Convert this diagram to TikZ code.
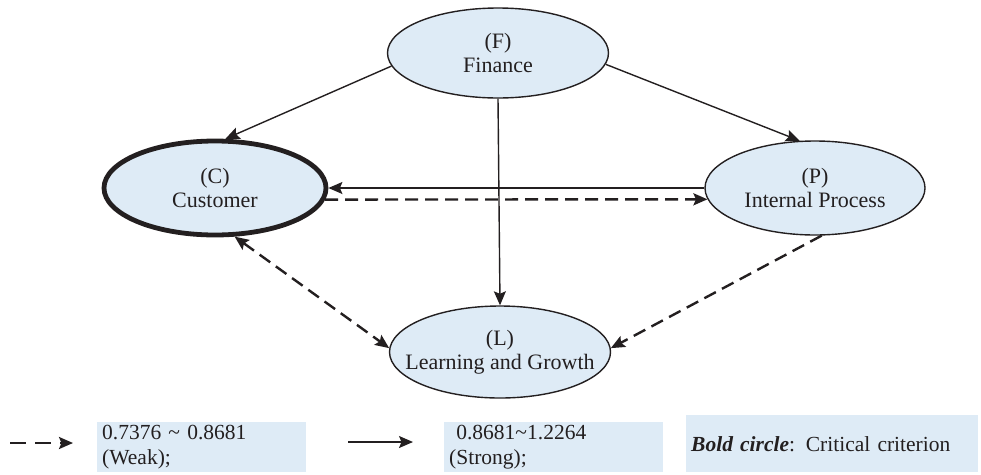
\documentclass[tikz,border=0pt]{standalone}
\usepackage{fontspec}
\setmainfont{Liberation Serif}
\usetikzlibrary{shapes.geometric,arrows.meta}
\definecolor{nodefill}{RGB}{222,235,246}
\definecolor{inkline}{RGB}{35,31,32}
\tikzset{
  tip/.tip={Stealth[length=14pt,width=12pt,inset=2.5pt]},
  crit/.style={ellipse, draw=inkline, fill=nodefill, line width=1.4pt, inner xsep=-40pt, inner ysep=-15pt, align=center,
    font=\fontsize{22}{24}\selectfont, text=inkline},
  solidarr/.style={draw=inkline, line width=1.4pt, -tip},
  dasharr/.style={draw=inkline, line width=2.4pt, dash pattern=on 13pt off 7pt, -tip},
  dasharrboth/.style={dasharr, tip-tip},
  legbox/.style={fill=nodefill, draw=none, inner xsep=5pt, inner ysep=0pt, align=left,
    font=\fontsize{21.5}{25}\selectfont, text=inkline, anchor=north west},
}
\begin{document}
\begin{tikzpicture}[x=1pt,y=-1pt]
\useasboundingbox (0,0) rectangle (981,474);
% nodes
\node[crit, minimum width=221pt, minimum height=90pt] (F) at (498,53) {(F)\\Finance};
\node[crit, minimum width=222pt, minimum height=94pt, line width=4.8pt] (C) at (215,188) {(C)\\Customer};
\node[crit, minimum width=220pt, minimum height=94pt] (P) at (815,188) {(P)\\Internal Process};
\node[crit, minimum width=221pt, minimum height=92pt] (L) at (500,352) {(L)\\Learning and Growth};
% connectors
\draw[solidarr] (F.187) -- (C.78);
\draw[solidarr] (F.354) -- (P.108);
\draw[solidarr] (F.south) -- (L.north);
\draw[solidarr] (P.west) -- (C.east);
\draw[dasharr] (C.-6) -- (P.186);
\draw[dasharrboth] (C.292) -- (L.178);
\draw[dasharr] (P.278) -- (L.2);
% legend
\coordinate (d1) at (10,443);
\coordinate (d2) at (73,443);
\draw[dasharr, dash pattern=on 16pt off 9pt] (d1) -- (d2);
\node[legbox, minimum width=209pt, minimum height=50pt, text width=199pt] (b1) at (97,422) {0.7376 \textasciitilde{} 0.8681\\(Weak);};
\coordinate (s1) at (348,442);
\coordinate (s2) at (413,442);
\draw[solidarr] (s1) -- (s2);
\node[legbox, minimum width=219pt, minimum height=50pt, text width=209pt] (b2) at (444,422) {\ 0.8681\textasciitilde1.2264\\(Strong);};
\node[legbox, minimum width=292pt, minimum height=57pt, text width=282pt] (b3) at (686,415) {{\bfseries\itshape Bold circle}: Critical criterion};
\end{tikzpicture}
\end{document}
